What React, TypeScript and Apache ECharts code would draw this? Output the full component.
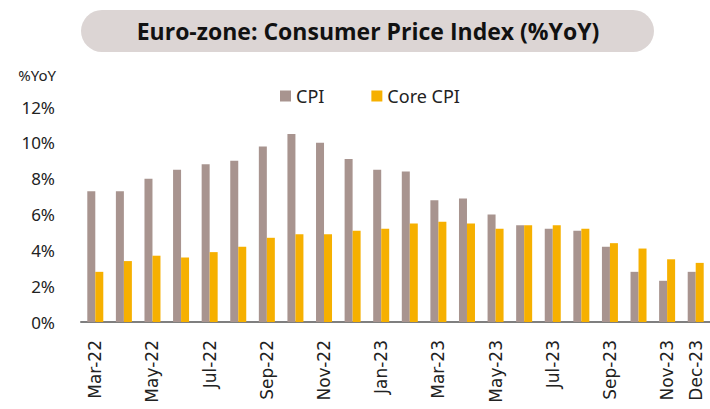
import React, { useEffect, useRef } from "react";
import * as echarts from "echarts";

const categories = [
  "Mar-22", "Apr-22", "May-22", "Jun-22", "Jul-22", "Aug-22", "Sep-22", "Oct-22", "Nov-22", "Dec-22",
  "Jan-23", "Feb-23", "Mar-23", "Apr-23", "May-23", "Jun-23", "Jul-23", "Aug-23", "Sep-23", "Oct-23", "Nov-23", "Dec-23",
];
const cpi = [7.3, 7.3, 8.0, 8.5, 8.8, 9.0, 9.8, 10.5, 10.0, 9.1, 8.5, 8.4, 6.8, 6.9, 6.0, 5.4, 5.2, 5.1, 4.2, 2.8, 2.3, 2.8];
const coreCpi = [2.8, 3.4, 3.7, 3.6, 3.9, 4.2, 4.7, 4.9, 4.9, 5.1, 5.2, 5.5, 5.6, 5.5, 5.2, 5.4, 5.4, 5.2, 4.4, 4.1, 3.5, 3.3];
const yTicks = [0, 2, 4, 6, 8, 10, 12];
const title = "Euro-zone: Consumer Price Index (%YoY)";
const yUnit = "%YoY";

export default function App() {
  const ref = useRef<HTMLDivElement>(null);
  useEffect(() => {
    if (!ref.current) return;
    const chart = echarts.init(ref.current, null, { renderer: "svg" });
    const lastIdx = categories.length - 1;
    chart.setOption({
      animation: false,
      backgroundColor: "#ffffff",
      textStyle: { fontFamily: "Noto Sans" },
      graphic: [
        {
          type: "rect",
          shape: { x: 81, y: 10, width: 573, height: 42, r: 21 },
          style: { fill: "#DCD5D4" },
        },
        {
          type: "text",
          x: 368,
          y: 31,
          style: {
            text: title,
            fontFamily: "Open Sans",
            fontWeight: "bold",
            fontSize: 23,
            fill: "#111111",
            align: "center",
            verticalAlign: "middle",
          },
        },
        {
          type: "text",
          x: 56,
          y: 75,
          style: {
            text: yUnit,
            fontFamily: "Noto Sans",
            fontSize: 15,
            fill: "#222222",
            align: "right",
            verticalAlign: "middle",
          },
        },
      ],
      legend: {
        left: 275,
        top: 82,
        itemWidth: 11,
        itemHeight: 11,
        itemGap: 47,
        icon: "rect",
        textStyle: { fontFamily: "Noto Sans", fontSize: 18, color: "#222222" },
        data: ["CPI", "Core CPI"],
      },
      grid: { left: 81, top: 107, width: 636, height: 215, containLabel: false },
      xAxis: {
        type: "category",
        data: categories,
        axisLine: { lineStyle: { color: "#7f7f7f", width: 2 } },
        axisTick: { show: false },
        axisLabel: {
          rotate: 90,
          margin: 18,
          fontFamily: "DejaVu Sans",
          fontSize: 17,
          color: "#222222",
          interval: (i: number) => i % 2 === 0 || i === lastIdx,
        },
      },
      yAxis: {
        type: "value",
        min: yTicks[0],
        max: yTicks[yTicks.length - 1],
        interval: 2,
        splitLine: { show: false },
        axisLine: { show: false },
        axisTick: { show: false },
        axisLabel: {
          formatter: "{value}%",
          fontFamily: "Noto Sans",
          fontSize: 17,
          color: "#222222",
          margin: 26,
        },
      },
      series: [
        {
          name: "CPI",
          type: "bar",
          data: cpi,
          barWidth: 8,
          barGap: "0%",
          itemStyle: { color: "#A8948F" },
        },
        {
          name: "Core CPI",
          type: "bar",
          data: coreCpi,
          barWidth: 8,
          barGap: "0%",
          itemStyle: { color: "#F6B000" },
        },
      ],
    });
    return () => chart.dispose();
  }, []);
  return (
    <div
      ref={ref}
      style={{ position: "absolute", left: 0, top: 0, width: 710, height: 409 }}
    />
  );
}
